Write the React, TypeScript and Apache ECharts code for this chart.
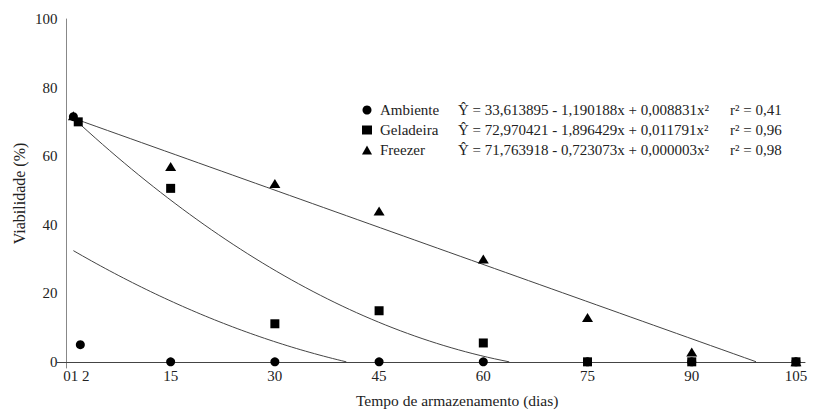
import React, { useEffect, useRef } from "react";
import * as echarts from "echarts";

// ---- data ----
const seriesNames = ["Ambiente", "Geladeira", "Freezer"];
const ambienteDays = [1, 2, 15, 30, 45, 60, 75, 90, 105];
const ambienteValues = [71.5, 5, 0, 0, 0, 0, 0, 0, 0];
const geladeiraDays = [1.7, 15, 30, 45, 60, 75, 90, 105];
const geladeiraValues = [70, 50.6, 11.1, 14.9, 5.5, 0, 0, 0];
const freezerDays = [1, 15, 30, 45, 60, 75, 90, 105];
const freezerValues = [71.8, 57, 52, 44, 30, 12.9, 2.9, 0];

// regression coefficients shown in the chart: a + b x + c x^2
const ambienteCoef = [33.613895, -1.190188, 0.008831];
const geladeiraCoef = [72.970421, -1.896429, 0.011791];
const freezerCoef = [71.763918, -0.723073, 0.000003];

const equations = [
  "Ŷ = 33,613895 - 1,190188x + 0,008831x²",
  "Ŷ = 72,970421 - 1,896429x + 0,011791x²",
  "Ŷ = 71,763918 - 0,723073x + 0,000003x²",
];
const rSquared = ["r² = 0,41", "r² = 0,96", "r² = 0,98"];

// tick labels on the x axis: days 0, 1 and 2 are printed together as "01 2"
const xTickValues = [0, 15, 30, 45, 60, 75, 90, 105];
const xFirstLabel = "01 2";
const yTickLabels = [0, 20, 40, 60, 80, 100];

const FONT = "Liberation Serif";

function zip(xs: number[], ys: number[]) {
  return xs.map((x, i) => [x, ys[i]]);
}

function curve(coef: number[]) {
  const [a, b, c] = coef;
  const f = (x: number) => a + b * x + c * x * x;
  const pts: number[][] = [];
  let root: number;
  if (Math.abs(c) < 1e-5) root = -a / b;
  else {
    const disc = b * b - 4 * c * a;
    root = (-b - Math.sqrt(disc)) / (2 * c);
  }
  const start = 1;
  const steps = 60;
  for (let i = 0; i <= steps; i++) {
    const x = start + ((root - start) * i) / steps;
    pts.push([x, Math.max(0, f(x))]);
  }
  return pts;
}

export default function App() {
  const ref = useRef<HTMLDivElement>(null);

  useEffect(() => {
    if (!ref.current) return;
    const chart = echarts.init(ref.current, undefined, { renderer: "svg" });
    const markerColor = "#000";
    const lineStyle = { color: "#444", width: 1 };
    const txt = { fontFamily: FONT, fontSize: 15, color: "#222" };
    chart.setOption({
      animation: false,
      backgroundColor: "#fff",
      textStyle: { fontFamily: FONT },
      grid: {
        left: 57.4,
        right: 8,
        top: 19,
        bottom: 42,
        containLabel: false,
        outerBoundsMode: "none",
      },
      xAxis: {
        type: "value",
        min: -1.3,
        max: 106.3,
        name: "Tempo de armazenamento (dias)",
        nameLocation: "middle",
        nameGap: 24,
        nameMoveOverlap: false,
        nameTextStyle: { fontFamily: FONT, fontSize: 15.5, color: "#222", padding: [0, 0, 0, 52] },
        axisLine: { onZero: true, lineStyle: { color: "#444", width: 1 } },
        axisTick: { show: false },
        splitLine: { show: false },
        axisLabel: {
          customValues: xTickValues,
          showMinLabel: true,
          showMaxLabel: true,
          hideOverlap: false,
          ...txt,
          margin: 0,
          formatter: (v: number) => (v === 0 ? `{p|${xFirstLabel}}` : String(v)),
          rich: {
            p: { ...txt, padding: [0, 0, 0, 20] },
          },
        },
      },
      yAxis: {
        type: "value",
        min: -1.8,
        max: 100,
        name: "Viabilidade (%)",
        nameLocation: "middle",
        nameGap: 30,
        nameRotate: 90,
        nameMoveOverlap: false,
        nameTextStyle: { fontFamily: FONT, fontSize: 16, color: "#222" },
        axisLine: { show: true, onZero: true, lineStyle: { color: "#888", width: 1 } },
        axisTick: { show: false },
        splitLine: { show: false },
        axisLabel: {
          customValues: yTickLabels,
          showMinLabel: true,
          showMaxLabel: true,
          hideOverlap: false,
          ...txt,
          margin: 0,
        },
      },
      legend: {
        data: seriesNames.map((n, i) => ({
          name: n,
          icon: ["circle", "rect", "triangle"][i],
        })),
        orient: "vertical",
        left: 357,
        top: 95,
        itemWidth: 10,
        itemHeight: 9,
        itemGap: 0,
        selectedMode: false,
        formatter: (name: string) => {
          const i = seriesNames.indexOf(name);
          return `{n|${name}}{e|${equations[i]}}{r|${rSquared[i]}}`;
        },
        textStyle: {
          ...txt,
          lineHeight: 20,
          rich: {
            n: { width: 78, padding: [0, 0, 0, 3], ...txt },
            e: { width: 272, ...txt },
            r: { ...txt },
          },
        },
      },
      series: [
        {
          name: "curve-ambiente",
          type: "line",
          data: curve(ambienteCoef),
          showSymbol: false,
          lineStyle,
          z: 1,
          silent: true,
        },
        {
          name: "curve-geladeira",
          type: "line",
          data: curve(geladeiraCoef),
          showSymbol: false,
          lineStyle,
          z: 1,
          silent: true,
        },
        {
          name: "curve-freezer",
          type: "line",
          data: curve(freezerCoef),
          showSymbol: false,
          lineStyle,
          z: 1,
          silent: true,
        },
        {
          name: "Freezer",
          type: "scatter",
          symbol: "triangle",
          symbolSize: [11, 9],
          data: zip(freezerDays, freezerValues),
          itemStyle: { color: markerColor, opacity: 1 },
          z: 3,
        },
        {
          name: "Geladeira",
          type: "scatter",
          symbol: "rect",
          symbolSize: 9,
          data: zip(geladeiraDays, geladeiraValues),
          itemStyle: { color: markerColor, opacity: 1 },
          z: 4,
        },
        {
          name: "Ambiente",
          type: "scatter",
          symbol: "circle",
          symbolSize: 9,
          data: zip(ambienteDays, ambienteValues),
          itemStyle: { color: markerColor, opacity: 1 },
          z: 5,
        },
      ],
    });
    return () => chart.dispose();
  }, []);

  return (
    <div
      ref={ref}
      style={{ position: "fixed", left: 0, top: 0, width: 813, height: 410, background: "#fff" }}
    />
  );
}
